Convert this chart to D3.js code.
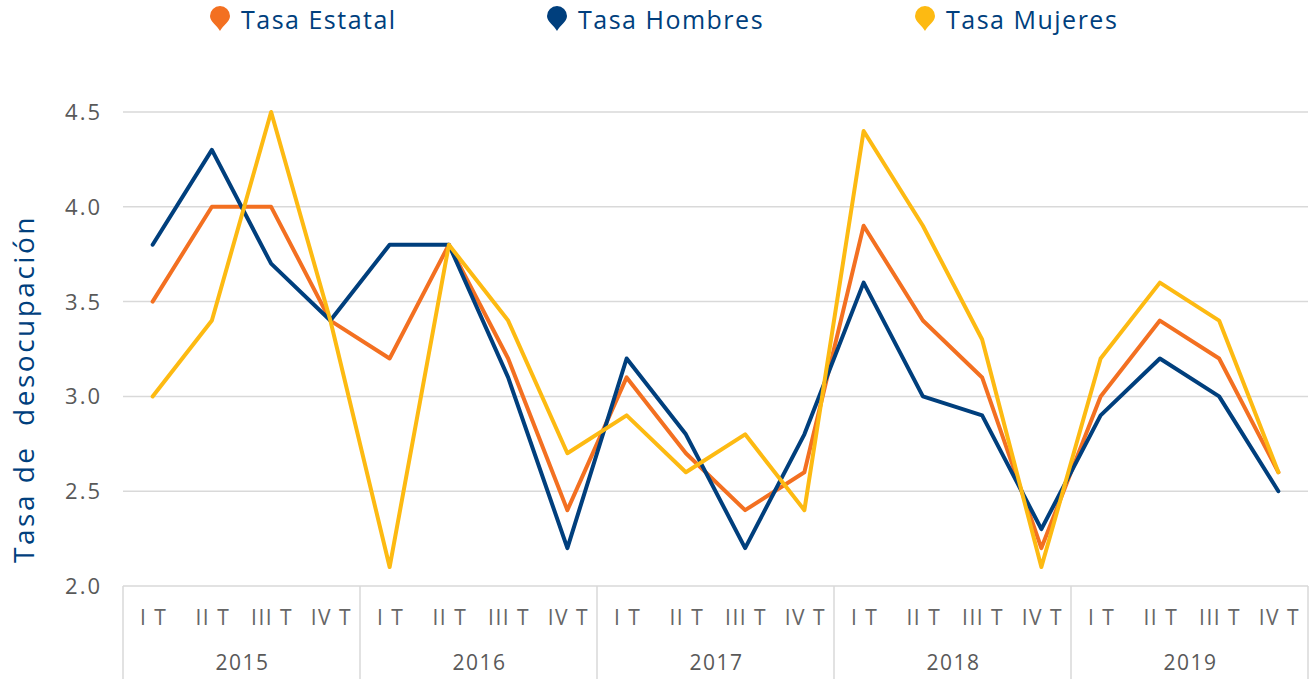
<!DOCTYPE html>
<html>
<head>
<meta charset="utf-8">
<script src="https://cdn.jsdelivr.net/npm/d3@7"></script>
<style>
  body { margin: 0; background: #fff; }
  svg { font-family: "Open Sans", "Lato", sans-serif; }
</style>
</head>
<body>
<div id="chart"></div>
<script>
const years = ["2015", "2016", "2017", "2018", "2019"];
const quarters = ["I T", "II T", "III T", "IV T"];
const yTicks = [2.0, 2.5, 3.0, 3.5, 4.0, 4.5];

const tasaEstatal = [3.5, 4.0, 4.0, 3.4, 3.2, 3.8, 3.2, 2.4, 3.1, 2.7, 2.4, 2.6, 3.9, 3.4, 3.1, 2.2, 3.0, 3.4, 3.2, 2.6];
const tasaHombres = [3.8, 4.3, 3.7, 3.4, 3.8, 3.8, 3.1, 2.2, 3.2, 2.8, 2.2, 2.8, 3.6, 3.0, 2.9, 2.3, 2.9, 3.2, 3.0, 2.5];
const tasaMujeres = [3.0, 3.4, 4.5, 3.4, 2.1, 3.8, 3.4, 2.7, 2.9, 2.6, 2.8, 2.4, 4.4, 3.9, 3.3, 2.1, 3.2, 3.6, 3.4, 2.6];

const series = [
  { name: "Tasa Estatal", values: tasaEstatal, color: "#F37021" },
  { name: "Tasa Hombres", values: tasaHombres, color: "#003F7D" },
  { name: "Tasa Mujeres", values: tasaMujeres, color: "#FDBA12" }
];

const width = 1310, height = 679;
const plotLeft = 123, plotRight = 1308, plotTop = 112, plotBottom = 586;

// one key per quarter: "2015|I T"
const keys = years.flatMap((yr) => quarters.map((q) => yr + "|" + q));

const x = d3.scaleBand().domain(keys).range([plotLeft, plotRight]);
const xYear = d3.scaleBand().domain(years).range([plotLeft, plotRight]);
const y = d3.scaleLinear().domain([2.0, 4.5]).range([plotBottom, plotTop]);

const svg = d3.select("#chart").append("svg")
  .attr("width", width)
  .attr("height", height);

// gridlines
svg.append("g")
  .selectAll("line")
  .data(yTicks.filter((d) => d > 2.0))
  .join("line")
  .attr("x1", plotLeft).attr("x2", plotRight)
  .attr("y1", (d) => y(d)).attr("y2", (d) => y(d))
  .attr("stroke", "#d9d9d9")
  .attr("stroke-width", 1.5);

// y tick labels
svg.append("g")
  .selectAll("text")
  .data(yTicks)
  .join("text")
  .attr("x", 102)
  .attr("y", (d) => y(d))
  .attr("dy", "0.36em")
  .attr("text-anchor", "end")
  .attr("fill", "#595959")
  .attr("font-size", 22)
  .attr("letter-spacing", 2)
  .text((d) => d.toFixed(1));

// y axis title
svg.append("text")
  .attr("transform", `translate(34,${(plotTop + plotBottom) / 2 + 40}) rotate(-90)`)
  .attr("text-anchor", "middle")
  .attr("fill", "#003F7D")
  .attr("font-size", 28)
  .attr("letter-spacing", 2.5)
  .attr("xml:space", "preserve")
  .text("Tasa de  desocupación");

// x axis frame
const ax = svg.append("g").attr("stroke", "#d9d9d9").attr("stroke-width", 1.5);
ax.append("line").attr("x1", plotLeft).attr("x2", plotRight).attr("y1", plotBottom).attr("y2", plotBottom);
ax.selectAll("line.sep")
  .data(years.map((d) => xYear(d)).concat([plotRight]))
  .join("line")
  .attr("class", "sep")
  .attr("x1", (d) => d).attr("x2", (d) => d)
  .attr("y1", plotBottom).attr("y2", height);

// quarter labels
svg.append("g")
  .selectAll("text")
  .data(keys)
  .join("text")
  .attr("x", (d) => x(d) + x.bandwidth() / 2 + 1)
  .attr("y", 625)
  .attr("text-anchor", "middle")
  .attr("fill", "#666")
  .attr("font-size", 21)
  .attr("letter-spacing", 1.5)
  .text((d) => d.split("|")[1]);

// year labels
svg.append("g")
  .selectAll("text")
  .data(years)
  .join("text")
  .attr("x", (d) => xYear(d) + xYear.bandwidth() / 2 + 1)
  .attr("y", 670)
  .attr("text-anchor", "middle")
  .attr("fill", "#595959")
  .attr("font-size", 21)
  .attr("letter-spacing", 1.5)
  .text((d) => d);

// lines
const line = d3.line()
  .x((d, i) => x(keys[i]) + x.bandwidth() / 2)
  .y((d) => y(d));

svg.append("g")
  .selectAll("path")
  .data(series)
  .join("path")
  .attr("d", (d) => line(d.values))
  .attr("fill", "none")
  .attr("stroke", (d) => d.color)
  .attr("stroke-width", 4)
  .attr("stroke-linejoin", "round")
  .attr("stroke-linecap", "round");

// legend
const legendX = [220, 557, 925];
const leg = svg.append("g")
  .selectAll("g")
  .data(series)
  .join("g")
  .attr("transform", (d, i) => `translate(${legendX[i]},17)`);

leg.append("path")
  .attr("d", "M0,14 C-3,8 -10,5 -10,-1 A10,10 0 1,1 10,-1 C10,5 3,8 0,14 Z")
  .attr("fill", (d) => d.color);

leg.append("text")
  .attr("x", 21)
  .attr("y", 3)
  .attr("dy", "0.36em")
  .attr("fill", "#003F7D")
  .attr("font-size", 25)
  .attr("letter-spacing", 1.5)
  .text((d) => d.name);
</script>
</body>
</html>
